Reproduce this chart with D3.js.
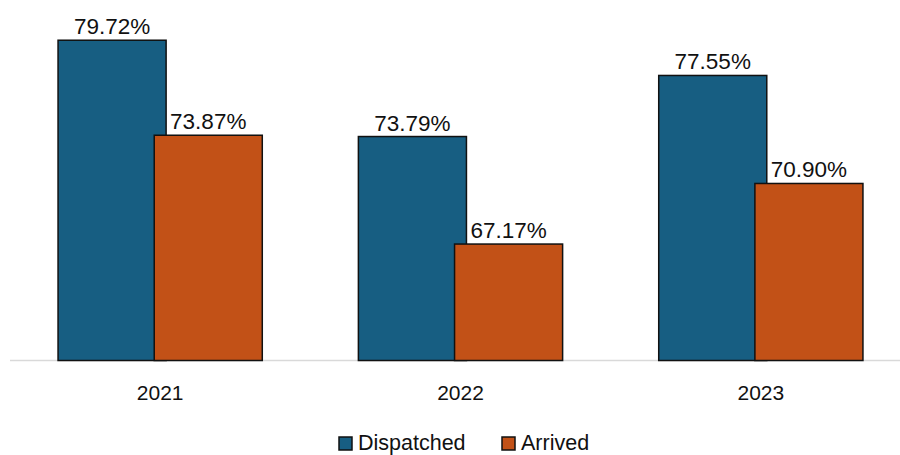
<!DOCTYPE html>
<html>
<head>
<meta charset="utf-8">
<script src="https://cdn.jsdelivr.net/npm/d3@7"></script>
<style>
  html, body { margin: 0; padding: 0; background: #fff; }
  svg { display: block; }
</style>
</head>
<body>
<svg id="chart" width="900" height="455"></svg>
<script>
// Response performance by year
const years = ["2021", "2022", "2023"];
const seriesNames = ["Dispatched", "Arrived"];
const dispatched = [79.72, 73.79, 77.55];
const arrived = [73.87, 67.17, 70.90];
const seriesColors = ["#175e82", "#c25117"];

const rows = years.map((y, i) => ({ year: y, values: [dispatched[i], arrived[i]] }));

const svg = d3.select("#chart");
const fontFamily = "'Liberation Sans', Arial, sans-serif";

// category bands; the two bars of a year overlap slightly
const x0 = d3.scaleBand().domain(years).range([10, 911]).paddingInner(0.32).paddingOuter(0.16);
const overlap = 0.11;
const barW = x0.bandwidth() / (2 - overlap);
const barX = i => i * barW * (1 - overlap);
const y = d3.scaleLinear().domain([60, 82]).range([360.5, 3.2]);

// baseline
svg.append("line")
  .attr("x1", 10).attr("x2", 900)
  .attr("y1", y(60)).attr("y2", y(60))
  .attr("stroke", "#d9d9d9").attr("stroke-width", 1.5);

const groups = svg.selectAll("g.year")
  .data(rows)
  .join("g")
  .attr("class", "year")
  .attr("transform", d => `translate(${x0(d.year)},0)`);

const cells = groups.selectAll("g.bar")
  .data(d => d.values.map((v, i) => ({ idx: i, name: seriesNames[i], value: v, color: seriesColors[i] })))
  .join("g").attr("class", "bar");

cells.append("rect")
  .attr("x", d => barX(d.idx))
  .attr("y", d => y(d.value))
  .attr("width", barW)
  .attr("height", d => y(60) - y(d.value))
  .attr("fill", d => d.color)
  .attr("stroke", "#111")
  .attr("stroke-width", 1.5);

cells.append("text")
  .attr("x", d => barX(d.idx) + barW / 2)
  .attr("y", d => y(d.value) - 6)
  .attr("text-anchor", "middle")
  .attr("font-family", fontFamily)
  .attr("font-size", 22.5)
  .attr("fill", "#111")
  .text(d => d.value.toFixed(2) + "%");

// category axis labels
const xAxis = d3.axisBottom(x0).tickSize(0).tickPadding(0);
const axisG = svg.append("g")
  .attr("transform", `translate(0,${y(60)})`)
  .call(xAxis);
axisG.select(".domain").remove();
axisG.selectAll("text")
  .attr("y", 39.5)
  .attr("dy", null)
  .attr("font-family", fontFamily)
  .attr("font-size", 21)
  .attr("fill", "#111");

// legend
const legendItems = [
  { name: seriesNames[0], color: seriesColors[0], x: 339 },
  { name: seriesNames[1], color: seriesColors[1], x: 502 }
];
const legend = svg.append("g");
const li = legend.selectAll("g").data(legendItems).join("g")
  .attr("transform", d => `translate(${d.x},437)`);
li.append("rect")
  .attr("width", 13).attr("height", 13)
  .attr("fill", d => d.color)
  .attr("stroke", "#111").attr("stroke-width", 1.5);
li.append("text")
  .attr("x", 19).attr("y", 13)
  .attr("font-family", fontFamily)
  .attr("font-size", 21.5)
  .attr("fill", "#111")
  .text(d => d.name);
</script>
</body>
</html>
